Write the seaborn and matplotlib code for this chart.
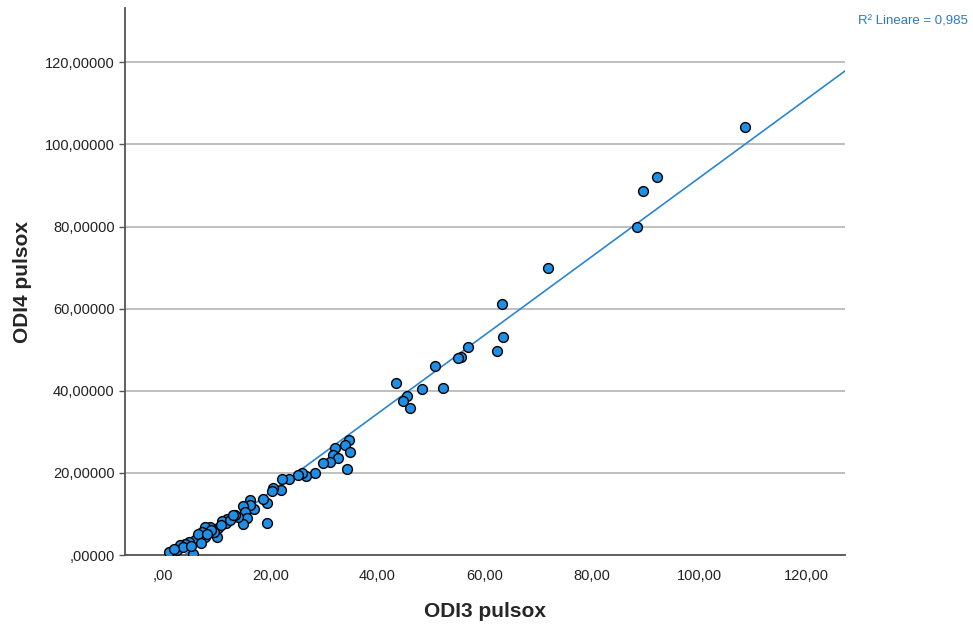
#!/usr/bin/env python3
# coding: utf-8
import numpy as np
import pandas as pd
import seaborn as sns
import matplotlib.pyplot as plt
from matplotlib.ticker import FuncFormatter, MultipleLocator

# ------------------------------------------------
# Data
# ------------------------------------------------
odi3 = [108.6, 92.2, 89.6, 88.4, 71.8, 63.2, 63.4, 62.3, 56.9, 55.6,
        55.0, 50.7, 52.2, 48.3, 43.5, 45.5, 44.8, 46.1,
        34.7, 34.0, 34.9, 32.1, 31.7, 32.6, 31.2, 29.9, 34.3, 28.4,
        26.7, 25.9, 25.2, 23.5, 22.2, 22.0, 20.5, 20.3, 19.4, 19.4,
        18.7, 17.0, 16.2, 16.2, 14.9, 15.3, 15.7, 14.9, 14.0, 13.4,
        11.9, 11.8, 11.0, 10.3, 10.0, 9.5, 8.8, 7.8, 7.3, 7.8,
        6.9, 6.0, 4.9, 4.1, 3.2, 2.6, 1.1, 5.6, 12.5, 9.0, 6.5, 3.8,
        8.2, 10.8, 5.2, 2.0, 13.0, 7.0]
odi4 = [104.2, 92.0, 88.6, 79.8, 69.9, 61.1, 53.1, 49.7, 50.6, 48.2,
        48.0, 46.0, 40.7, 40.4, 41.9, 38.7, 37.5, 35.8,
        28.0, 26.8, 25.1, 26.0, 24.3, 23.6, 22.6, 22.4, 20.9, 20.0,
        19.2, 20.0, 19.5, 18.5, 18.5, 15.8, 16.3, 15.6, 7.8, 12.7,
        13.6, 11.2, 13.4, 12.2, 11.9, 10.5, 9.0, 7.5, 9.3, 9.7,
        8.8, 7.8, 8.3, 6.6, 4.4, 5.6, 6.8, 6.8, 5.6, 4.4,
        4.4, 3.7, 3.2, 2.7, 2.4, 1.2, 0.7, 0.2, 8.5, 6.0, 5.0, 2.0,
        5.2, 7.4, 2.2, 1.5, 9.8, 3.0]
r2_text = "R² Lineare = 0,985"

df = pd.DataFrame({"ODI3 pulsox": odi3, "ODI4 pulsox": odi4})

# ------------------------------------------------
# Plot
# ------------------------------------------------
sns.set_theme(style="white")
plt.rcParams['font.family'] = ['Liberation Sans', 'DejaVu Sans']

fig = plt.figure(figsize=(9.73, 6.28), dpi=100)
ax = fig.add_axes([0.1285, 0.1162, 0.74, 0.871])
ax.set_xlim(-7.1, 127.2)
ax.set_ylim(0, 133.2)

ax.yaxis.set_major_locator(MultipleLocator(20))
ax.xaxis.set_major_locator(MultipleLocator(20))
ax.grid(axis="y", color="#b4b4b4", linewidth=1.2)
ax.set_axisbelow(True)

sns.regplot(x="ODI3 pulsox", y="ODI4 pulsox", data=df, ax=ax, ci=None,
            truncate=False,
            scatter_kws=dict(s=50, color="#1f8fe5", edgecolors="black",
                             linewidths=1.0, alpha=1, zorder=3),
            line_kws=dict(color="#2a86d2", linewidth=1.2, zorder=2))
ax.set_xlim(-7.1, 127.2)
ax.set_ylim(0, 133.2)


def fmt(dec):
    def f(v, pos):
        s = f"{v:.{dec}f}".replace(".", ",")
        if s.startswith("0,"):
            s = s[1:]
        return s
    return FuncFormatter(f)


ax.xaxis.set_major_formatter(fmt(2))
ax.yaxis.set_major_formatter(fmt(5))
ax.tick_params(axis="y", length=4, width=1.0, color="#555555",
               labelsize=10.5, labelcolor="#222222", left=True)
ax.tick_params(axis="x", length=0, labelsize=10.5, labelcolor="#222222", pad=10)

for side in ["top", "right"]:
    ax.spines[side].set_visible(False)
for side in ["left", "bottom"]:
    ax.spines[side].set_color("#555555")
    ax.spines[side].set_linewidth(1.3)

ax.set_xlabel("ODI3 pulsox", fontsize=15, fontweight="bold", labelpad=14)
ax.set_ylabel("ODI4 pulsox", fontsize=15, fontweight="bold", labelpad=9)

fig.text(0.995, 0.965, r2_text, ha="right", va="center", fontsize=9.5,
         color="#2a7ac2")

plt.savefig("out.png", dpi=100)
plt.close(fig)
